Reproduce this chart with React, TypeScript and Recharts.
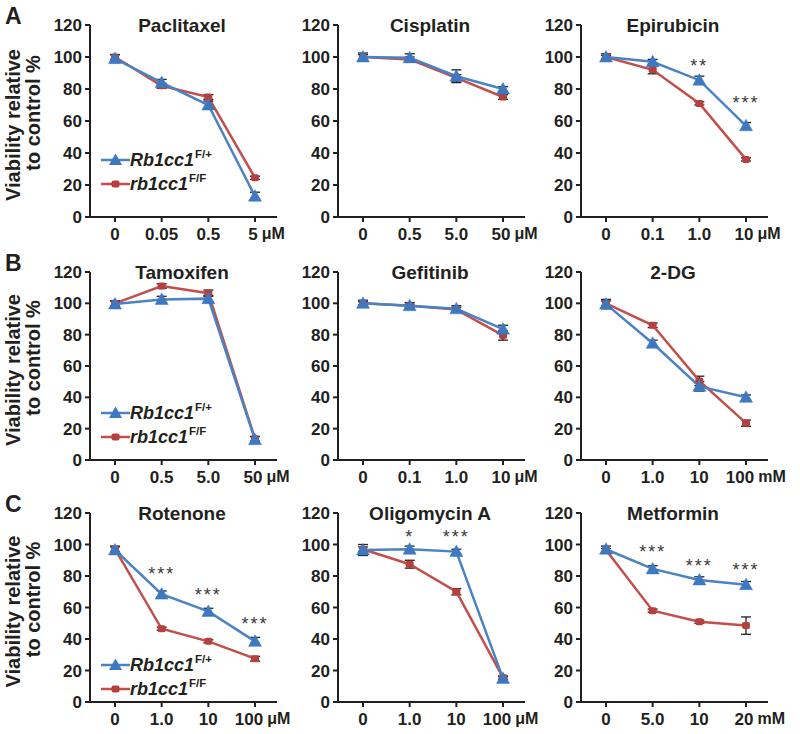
import React from 'react';
import { LineChart, Line, XAxis, YAxis, ErrorBar, LabelList, Legend, Customized } from 'recharts';

const BLUE = '#4a83c4';
const BLUE_DOT = '#3d78c0';
const RED = '#c24f4c';
const RED_DOT = '#b6403d';
const INK = '#231f20';
const FONT = '"Liberation Sans", Arial, Helvetica, sans-serif';

const yTicks = [0, 20, 40, 60, 80, 100, 120];

// A
const paclitaxelDoses = ['0', '0.05', '0.5', '5'];
const paclitaxelBlue = [99, 84, 70, 13];
const paclitaxelBlueErr = [2.5, 2, 2.5, 2.5];
const paclitaxelRed = [100, 82, 75, 24.5];
const paclitaxelRedErr = [1.5, 1.5, 1.5, 1];

const cisplatinDoses = ['0', '0.5', '5.0', '50'];
const cisplatinBlue = [100, 99.5, 88, 80];
const cisplatinBlueErr = [2.5, 2.5, 4, 1.5];
const cisplatinRed = [100, 98.5, 87, 75];
const cisplatinRedErr = [1.5, 1.5, 2, 1.5];

const epirubicinDoses = ['0', '0.1', '1.0', '10'];
const epirubicinBlue = [100, 97, 85.5, 57];
const epirubicinBlueErr = [2, 1.5, 2.5, 2];
const epirubicinRed = [100, 92, 71, 36];
const epirubicinRedErr = [1, 2.5, 1, 1];
const epirubicinSig = ['', '', '**', '***'];
const epirubicinSigY = [null, null, 97, 73.5];

// B
const tamoxifenDoses = ['0', '0.5', '5.0', '50'];
const tamoxifenBlue = [99.5, 102.5, 103, 13];
const tamoxifenBlueErr = [2, 2, 2, 2];
const tamoxifenRed = [100, 111, 106.5, 13.5];
const tamoxifenRedErr = [1.5, 1.5, 2, 1.5];

const gefitinibDoses = ['0', '0.1', '1.0', '10'];
const gefitinibBlue = [100, 98.5, 96.5, 83.5];
const gefitinibBlueErr = [2, 2, 2, 2.5];
const gefitinibRed = [100, 98.5, 96, 79.5];
const gefitinibRedErr = [1, 1, 1.5, 3];

const dgDoses = ['0', '1.0', '10', '100'];
const dgBlue = [99.5, 74.5, 47, 40];
const dgBlueErr = [3, 2, 3, 1.5];
const dgRed = [100, 86, 50.5, 23.5];
const dgRedErr = [1.5, 1.5, 3, 2];

// C
const rotenoneDoses = ['0', '1.0', '10', '100'];
const rotenoneBlue = [96.5, 68.5, 57.5, 38.5];
const rotenoneBlueErr = [2.5, 2, 2, 2.5];
const rotenoneRed = [97, 46.5, 38.5, 27.5];
const rotenoneRedErr = [1.5, 1, 1, 1.5];
const rotenoneSig = ['', '***', '***', '***'];
const rotenoneSigY = [null, 84, 70.5, 52];

const oligomycinDoses = ['0', '1.0', '10', '100'];
const oligomycinBlue = [96.5, 97, 95.5, 15];
const oligomycinBlueErr = [3.5, 2, 1.5, 1];
const oligomycinRed = [97, 87.5, 70, 15.5];
const oligomycinRedErr = [1.5, 2.5, 2, 1];
const oligomycinSig = ['', '*', '***', ''];
const oligomycinSigY = [null, 107, 107, null];

const metforminDoses = ['0', '5.0', '10', '20'];
const metforminBlue = [97, 84.5, 77.5, 74.5];
const metforminBlueErr = [2, 2, 2, 2];
const metforminRed = [96.5, 58, 51, 48.5];
const metforminRedErr = [1, 1, 1, 5.5];
const metforminSig = ['', '***', '***', '***'];
const metforminSigY = [null, 98, 89, 86.5];

const noSig = ['', '', '', ''];
const noSigY = [null, null, null, null];

const panels = [
  { title: 'Paclitaxel', unit: 'μM', doses: paclitaxelDoses, blue: paclitaxelBlue, blueErr: paclitaxelBlueErr, red: paclitaxelRed, redErr: paclitaxelRedErr, sig: noSig, sigY: noSigY },
  { title: 'Cisplatin', unit: 'μM', doses: cisplatinDoses, blue: cisplatinBlue, blueErr: cisplatinBlueErr, red: cisplatinRed, redErr: cisplatinRedErr, sig: noSig, sigY: noSigY },
  { title: 'Epirubicin', unit: 'μM', doses: epirubicinDoses, blue: epirubicinBlue, blueErr: epirubicinBlueErr, red: epirubicinRed, redErr: epirubicinRedErr, sig: epirubicinSig, sigY: epirubicinSigY },
  { title: 'Tamoxifen', unit: 'μM', doses: tamoxifenDoses, blue: tamoxifenBlue, blueErr: tamoxifenBlueErr, red: tamoxifenRed, redErr: tamoxifenRedErr, sig: noSig, sigY: noSigY },
  { title: 'Gefitinib', unit: 'μM', doses: gefitinibDoses, blue: gefitinibBlue, blueErr: gefitinibBlueErr, red: gefitinibRed, redErr: gefitinibRedErr, sig: noSig, sigY: noSigY },
  { title: '2-DG', unit: 'mM', doses: dgDoses, blue: dgBlue, blueErr: dgBlueErr, red: dgRed, redErr: dgRedErr, sig: noSig, sigY: noSigY },
  { title: 'Rotenone', unit: 'μM', doses: rotenoneDoses, blue: rotenoneBlue, blueErr: rotenoneBlueErr, red: rotenoneRed, redErr: rotenoneRedErr, sig: rotenoneSig, sigY: rotenoneSigY },
  { title: 'Oligomycin A', unit: 'μM', doses: oligomycinDoses, blue: oligomycinBlue, blueErr: oligomycinBlueErr, red: oligomycinRed, redErr: oligomycinRedErr, sig: oligomycinSig, sigY: oligomycinSigY },
  { title: 'Metformin', unit: 'mM', doses: metforminDoses, blue: metforminBlue, blueErr: metforminBlueErr, red: metforminRed, redErr: metforminRedErr, sig: metforminSig, sigY: metforminSigY },
];

const rowLetters = ['A', 'B', 'C'];

// layout (pixels)
const ROW_TOP = [25, 272, 513];
const ROW_H = [192, 188, 189];
const COL_X = [90, 338, 581];
const LEGEND_TOP = [148, 154, 165];
const MT = 25;
const PLOT_W = 187;
const MR = 40;
const CHART_W = 90 + PLOT_W + MR;

const numWidth = (s: string, fs: number) =>
  s.split('').reduce((w, ch) => w + (ch === '.' ? 0.278 : 0.556) * fs, 0);

function makeXTick(unit: string, count: number) {
  return (props: any) => {
    const { x, y, payload, index } = props;
    const label = String(payload.value);
    const last = index === count - 1;
    const cx = last ? x - (label.length > 2 ? 6 : 2) : x;
    return (
      <g key={`xt-${index}`}>
        <text x={cx} y={y} dy="0.71em" textAnchor="middle" fill={INK} fontSize={17} fontWeight="bold" fontFamily={FONT}>
          {label}
        </text>
        {last && (
          <text x={cx + numWidth(label, 17) / 2 + 4} y={y} dy="0.71em" textAnchor="start" fill={INK} fontSize={16} fontWeight="bold" fontFamily={FONT}>
            {unit}
          </text>
        )}
      </g>
    );
  };
}

const triangleDot = (props: any) => {
  const { cx, cy, index } = props;
  if (cx == null || cy == null) return <g key={`bt-${index}`} />;
  return (
    <path key={`bt-${index}`} d={`M${cx - 6.5},${cy + 5} L${cx + 6.5},${cy + 5} L${cx},${cy - 6.5} Z`} fill={BLUE_DOT} stroke={BLUE_DOT} strokeWidth={0.5} />
  );
};

const squareDot = (props: any) => {
  const { cx, cy, index } = props;
  if (cx == null || cy == null) return <g key={`rs-${index}`} />;
  return <rect key={`rs-${index}`} x={cx - 4} y={cy - 3.5} width={8} height={7} rx={2} fill={RED_DOT} />;
};

const sigLabel = (props: any) => {
  const { x, y, value, index } = props;
  if (!value || y == null || isNaN(y)) return null;
  return (
    <text key={`sig-${index}`} x={x} y={y + 10} textAnchor="middle" fill="#3a3a3a" fontSize={18} letterSpacing={2} fontFamily={FONT}>
      {value}
    </text>
  );
};

function LegendBox() {
  const row = (color: string, dotColor: string, tri: boolean, name: string, sup: string) => (
    <div style={{ display: 'flex', alignItems: 'center', height: 24 }}>
      <svg width={29} height={16}>
        <line x1={0} y1={8} x2={29} y2={8} stroke={color} strokeWidth={2.5} />
        {tri ? (
          <path d="M8,13 L21,13 L14.5,1.5 Z" fill={dotColor} />
        ) : (
          <rect x={10.5} y={4.5} width={8} height={7} rx={2} fill={dotColor} />
        )}
      </svg>
      <span style={{ fontFamily: FONT, fontSize: 18, fontWeight: 'bold', fontStyle: 'italic', color: INK }}>{name}</span>
      <span style={{ fontFamily: FONT, fontSize: 11.5, fontWeight: 'bold', color: INK, position: 'relative', top: -6, marginLeft: 1 }}>{sup}</span>
    </div>
  );
  return (
    <div>
      {row(BLUE, BLUE_DOT, true, 'Rb1cc1', 'F/+')}
      {row(RED, RED_DOT, false, 'rb1cc1', 'F/F')}
    </div>
  );
}

function Panel({ p, row, col }: { p: any; row: number; col: number }) {
  const plotH = ROW_H[row];
  const data = p.doses.map((d: string, i: number) => ({
    dose: d,
    blue: p.blue[i],
    blueErr: p.blueErr[i],
    red: p.red[i],
    redErr: p.redErr[i],
    sig: p.sig[i],
    sigY: p.sigY[i],
  }));
  const first = col === 0;
  const mid = MT + plotH / 2;

  const Decor = () => (
    <g fontFamily={FONT}>
      <text x={182} y={MT + 7} textAnchor="middle" fill={INK} fontSize={19} fontWeight="bold">
        {p.title}
      </text>
      {first && (
        <g>
          <text x={5} y={MT - 1} fill={INK} fontSize={23} fontWeight="bold">
            {rowLetters[row]}
          </text>
          <text transform={`rotate(-90, 13, ${mid + 4})`} x={13} y={mid + 4} textAnchor="middle" dominantBaseline="central" fill={INK} fontSize={20} fontWeight="bold">
            Viability relative
          </text>
          <text transform={`rotate(-90, 33, ${mid - 8})`} x={33} y={mid - 8} textAnchor="middle" dominantBaseline="central" fill={INK} fontSize={20} fontWeight="bold">
            to control %
          </text>
        </g>
      )}
    </g>
  );

  return (
    <div style={{ position: 'absolute', left: COL_X[col] - 90, top: ROW_TOP[row] - MT }}>
      <LineChart width={CHART_W} height={MT + plotH + 40} data={data} margin={{ top: MT, right: MR, bottom: 0, left: 45 }}>
        <XAxis
          dataKey="dose"
          height={40}
          interval={0}
          padding={{ left: 25, right: 22 }}
          axisLine={{ stroke: INK, strokeWidth: 2 }}
          tickLine={{ stroke: INK, strokeWidth: 2 }}
          tickSize={5}
          tickMargin={6}
          tick={makeXTick(p.unit, p.doses.length)}
        />
        <YAxis
          width={45}
          domain={[0, 120]}
          ticks={yTicks}
          interval={0}
          axisLine={{ stroke: INK, strokeWidth: 2 }}
          tickLine={{ stroke: INK, strokeWidth: 2 }}
          tickSize={5}
          tickMargin={3}
          tick={{ fill: INK, fontSize: 17, fontWeight: 'bold', fontFamily: FONT }}
        />
        <Customized component={Decor} />
        <Line dataKey="red" stroke={RED} strokeWidth={2.5} dot={squareDot} activeDot={false} isAnimationActive={false} legendType="none">
          <ErrorBar dataKey="redErr" width={5} stroke={INK} strokeWidth={1.3} direction="y" />
        </Line>
        <Line dataKey="blue" stroke={BLUE} strokeWidth={2.5} dot={triangleDot} activeDot={false} isAnimationActive={false} legendType="none">
          <ErrorBar dataKey="blueErr" width={5} stroke={INK} strokeWidth={1.3} direction="y" />
        </Line>
        <Line dataKey="sigY" stroke="none" dot={false} activeDot={false} isAnimationActive={false} legendType="none">
          <LabelList dataKey="sig" content={sigLabel} />
        </Line>
        {first && (
          <Legend
            layout="vertical"
            align="center"
            verticalAlign="middle"
            content={<LegendBox />}
            wrapperStyle={{ left: 101, top: LEGEND_TOP[row], width: 'auto' }}
          />
        )}
      </LineChart>
    </div>
  );
}

export default function App() {
  return (
    <div style={{ position: 'absolute', left: 0, top: 0, width: 800, height: 734, background: '#fff' }}>
      {panels.map((p, i) => (
        <Panel key={p.title} p={p} row={Math.floor(i / 3)} col={i % 3} />
      ))}
    </div>
  );
}
